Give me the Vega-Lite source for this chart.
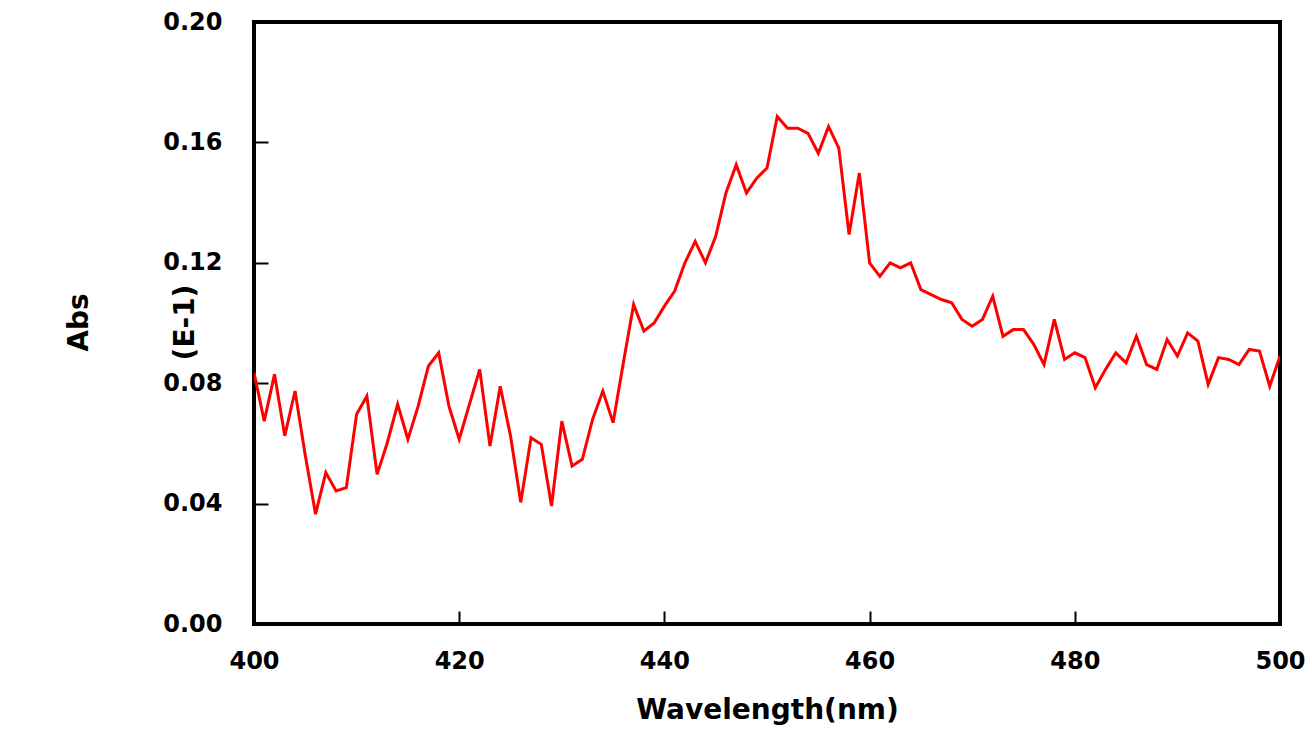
{
  "$schema": "https://vega.github.io/schema/vega-lite/v6.json",
  "width": 1026,
  "height": 602,
  "autosize": {"type": "none"},
  "padding": {"left": 254, "top": 22, "right": 32, "bottom": 112},
  "background": "white",
  "view": {"stroke": "black", "strokeWidth": 4},
  "data": {"values": [
    {"wl":400,"abs":0.0835},{"wl":401,"abs":0.0674},{"wl":402,"abs":0.083},{"wl":403,"abs":0.0625},{"wl":404,"abs":0.0774},
    {"wl":405,"abs":0.056},{"wl":406,"abs":0.0365},{"wl":407,"abs":0.0503},{"wl":408,"abs":0.0442},{"wl":409,"abs":0.0453},
    {"wl":410,"abs":0.0697},{"wl":411,"abs":0.0757},{"wl":412,"abs":0.0497},{"wl":413,"abs":0.0603},{"wl":414,"abs":0.073},
    {"wl":415,"abs":0.0614},{"wl":416,"abs":0.0724},{"wl":417,"abs":0.0857},{"wl":418,"abs":0.0901},{"wl":419,"abs":0.0724},
    {"wl":420,"abs":0.0614},{"wl":421,"abs":0.073},{"wl":422,"abs":0.0846},{"wl":423,"abs":0.0591},{"wl":424,"abs":0.079},
    {"wl":425,"abs":0.0625},{"wl":426,"abs":0.0404},{"wl":427,"abs":0.0619},{"wl":428,"abs":0.0597},{"wl":429,"abs":0.0392},
    {"wl":430,"abs":0.0674},{"wl":431,"abs":0.0525},{"wl":432,"abs":0.0547},{"wl":433,"abs":0.068},{"wl":434,"abs":0.0774},
    {"wl":435,"abs":0.0669},{"wl":436,"abs":0.0868},{"wl":437,"abs":0.1061},{"wl":438,"abs":0.0973},{"wl":439,"abs":0.1},
    {"wl":440,"abs":0.1056},{"wl":441,"abs":0.1106},{"wl":442,"abs":0.12},{"wl":443,"abs":0.1271},{"wl":444,"abs":0.12},
    {"wl":445,"abs":0.1288},{"wl":446,"abs":0.1432},{"wl":447,"abs":0.1526},{"wl":448,"abs":0.1432},{"wl":449,"abs":0.1481},
    {"wl":450,"abs":0.1515},{"wl":451,"abs":0.1686},{"wl":452,"abs":0.1647},{"wl":453,"abs":0.1647},{"wl":454,"abs":0.163},
    {"wl":455,"abs":0.1564},{"wl":456,"abs":0.1653},{"wl":457,"abs":0.1581},{"wl":458,"abs":0.1294},{"wl":459,"abs":0.1498},
    {"wl":460,"abs":0.12},{"wl":461,"abs":0.1155},{"wl":462,"abs":0.12},{"wl":463,"abs":0.1183},{"wl":464,"abs":0.12},
    {"wl":465,"abs":0.1111},{"wl":466,"abs":0.1094},{"wl":467,"abs":0.1078},{"wl":468,"abs":0.1067},{"wl":469,"abs":0.1012},
    {"wl":470,"abs":0.0989},{"wl":471,"abs":0.1012},{"wl":472,"abs":0.1089},{"wl":473,"abs":0.0956},{"wl":474,"abs":0.0978},
    {"wl":475,"abs":0.0978},{"wl":476,"abs":0.0929},{"wl":477,"abs":0.0862},{"wl":478,"abs":0.1012},{"wl":479,"abs":0.0879},
    {"wl":480,"abs":0.0901},{"wl":481,"abs":0.0885},{"wl":482,"abs":0.0785},{"wl":483,"abs":0.0846},{"wl":484,"abs":0.0901},
    {"wl":485,"abs":0.0868},{"wl":486,"abs":0.0956},{"wl":487,"abs":0.0862},{"wl":488,"abs":0.0846},{"wl":489,"abs":0.0945},
    {"wl":490,"abs":0.089},{"wl":491,"abs":0.0967},{"wl":492,"abs":0.094},{"wl":493,"abs":0.0796},{"wl":494,"abs":0.0885},
    {"wl":495,"abs":0.0879},{"wl":496,"abs":0.0862},{"wl":497,"abs":0.0912},{"wl":498,"abs":0.0907},{"wl":499,"abs":0.079},
    {"wl":500,"abs":0.089}
  ]},
  "mark": {"type": "line", "color": "#ff0000", "strokeWidth": 3, "clip": true},
  "encoding": {
    "x": {
      "field": "wl", "type": "quantitative",
      "scale": {"domain": [400, 500], "nice": false, "zero": false},
      "axis": {
        "title": "Wavelength(nm)",
        "values": [400, 420, 440, 460, 480, 500],
        "format": "d",
        "grid": false,
        "domain": false,
        "offset": -13,
        "ticks": true,
        "tickColor": "black", "tickWidth": 2, "tickSize": 13,
        "labelFont": "DejaVu Sans", "labelFontSize": 24, "labelFontWeight": "bold", "labelColor": "black",
        "labelPadding": 25, "labelFlush": false,
        "titleFont": "DejaVu Sans", "titleFontSize": 28, "titleFontWeight": "bold", "titleColor": "black",
        "titleBaseline": "alphabetic", "titleY": 107
      }
    },
    "y": {
      "field": "abs", "type": "quantitative",
      "scale": {"domain": [0, 0.2], "nice": false},
      "axis": {
        "title": ["Abs", "(E-1)"],
        "values": [0, 0.04, 0.08, 0.12, 0.16, 0.2],
        "format": ".2f",
        "grid": false,
        "domain": false,
        "offset": -14,
        "ticks": true,
        "tickColor": "black", "tickWidth": 2, "tickSize": 14,
        "labelFont": "DejaVu Sans", "labelFontSize": 24, "labelFontWeight": "bold", "labelColor": "black",
        "labelPadding": 32, "labelFlush": false,
        "titleFont": "DejaVu Sans", "titleFontSize": 28, "titleFontWeight": "bold", "titleColor": "black",
        "titleAngle": -90, "titleAlign": "center", "titleBaseline": "middle",
        "titleLineHeight": 106, "titleX": -189, "titleY": 300
      }
    }
  }
}
